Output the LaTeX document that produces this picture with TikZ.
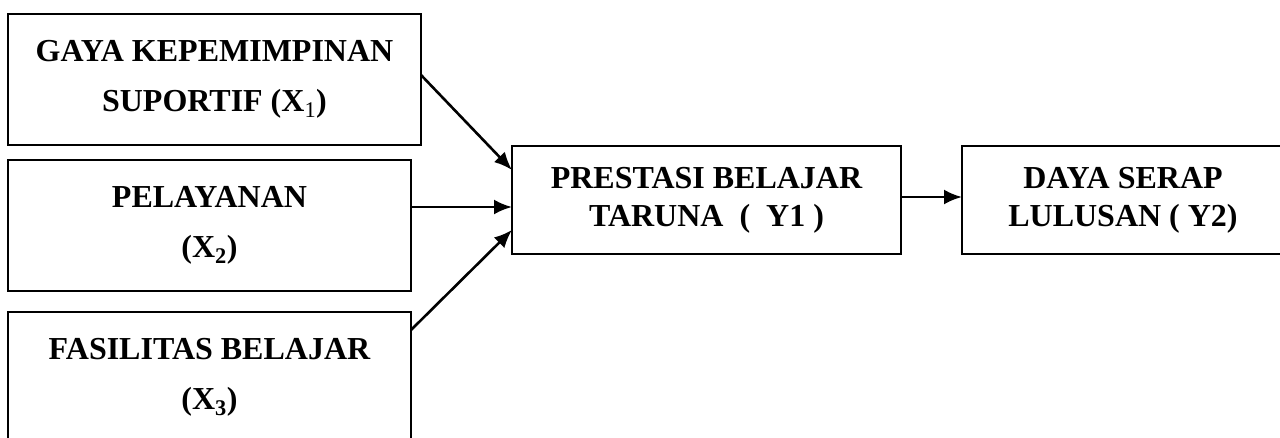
\documentclass[tikz,border=0pt]{standalone}
\usepackage{fontspec}
\setmainfont{Liberation Serif}
\usetikzlibrary{arrows.meta}
\tikzset{%
    varbox/.style={inner sep=0pt,outer sep=0pt,shape=rectangle,draw,line width=2.2pt,align=center,font=\fontsize{32}{50}\selectfont\bfseries},
    ybox/.style={varbox,font=\fontsize{32}{38}\selectfont\bfseries},
    link/.style={-{Latex[length=18pt,width=15pt]},line width=2.6pt},
}

\begin{document}
\begin{tikzpicture}[x=1pt,y=-1pt]
        \useasboundingbox (0,0) rectangle (1280,437);
        \node[varbox,minimum width=413pt,minimum height=131pt] (X1) at (214.5,79.5) {GAYA KEPEMIMPINAN\\SUPORTIF (X\textsubscript{\mdseries 1})};
        \node[varbox,minimum width=403pt,minimum height=131pt] (X2) at (209.5,225.5) {PELAYANAN\\(X\textsubscript{2})};
        \node[varbox,minimum width=403pt,minimum height=131pt] (X3) at (209.5,377.5) {FASILITAS BELAJAR\\(X\textsubscript{3})};
        \node[ybox,minimum width=389pt,minimum height=108pt] (Y1) at (706.5,200) {PRESTASI BELAJAR\\TARUNA \ (\ \ Y1 )};
        \node[ybox,minimum width=322pt,minimum height=108pt] (Y2) at (1123,200) {DAYA SERAP\\LULUSAN ( Y2)};

        \draw[link] ([yshift=4.5pt]X1.east) -- ([yshift=30pt]Y1.west);
        \draw[link] ([yshift=18.5pt]X2.east) -- ([yshift=-7pt]Y1.west);
        \draw[link] ([yshift=-18pt]X3.north east) -- ([yshift=-30pt]Y1.west);
        \draw[link] ([yshift=3pt]Y1.east) -- ([yshift=3pt]Y2.west);
    \end{tikzpicture}
\end{document}
